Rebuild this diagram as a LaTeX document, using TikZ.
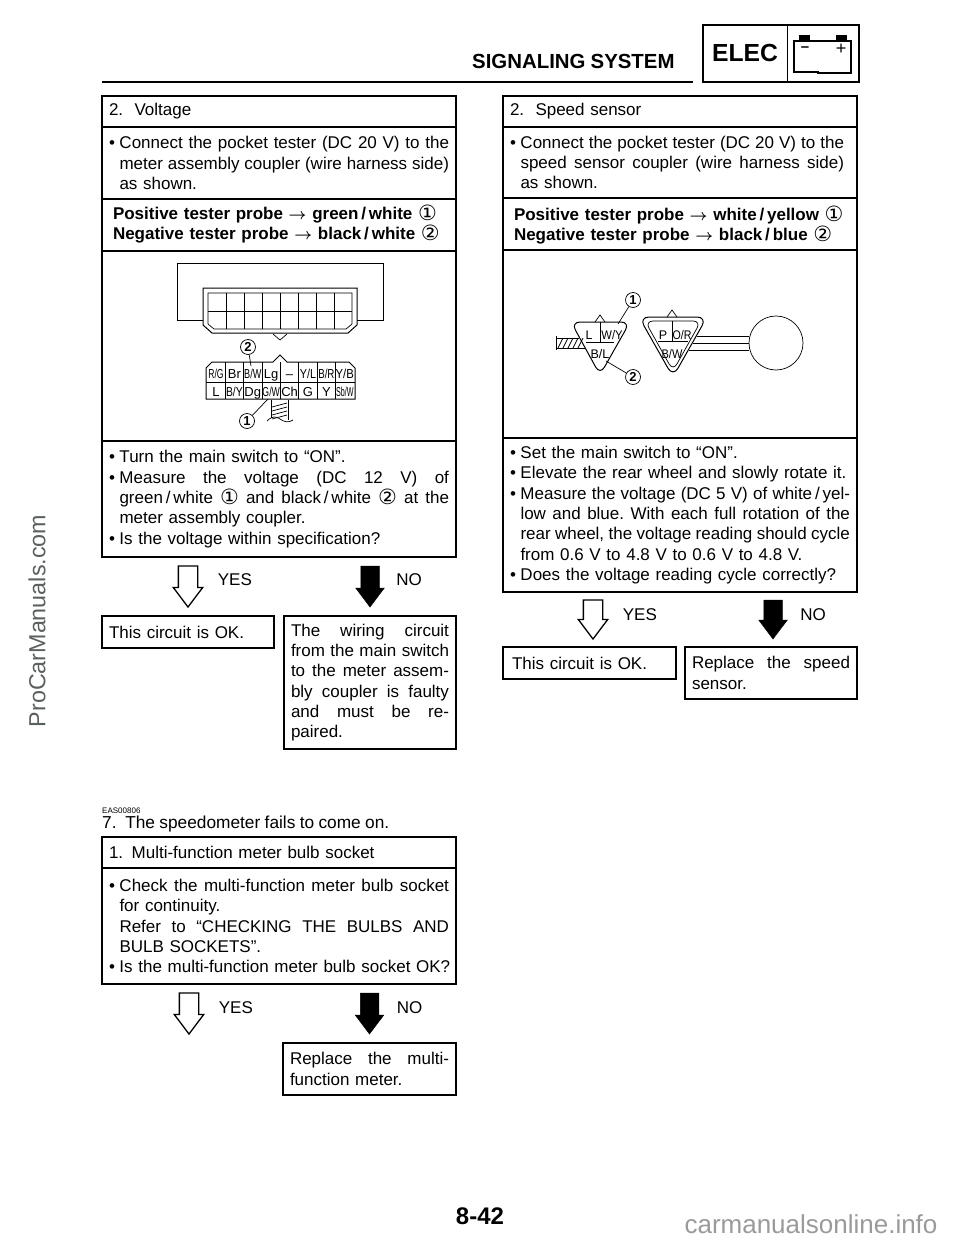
\documentclass[tikz,border=0pt]{standalone}
\usepackage{fontspec}
\setmainfont[WordSpace=0.9]{Liberation Sans}
\newfontfamily\cnumfont{DejaVu Sans}
\usepackage{xcolor}
\usetikzlibrary{arrows.meta,positioning,shapes.arrows,calc}
\definecolor{wmdark}{HTML}{5A5F5F}
\definecolor{wmlight}{HTML}{9A9A9A}
\newlength{\jw}
\setlength{\jw}{340pt}
\newcommand{\bodyfont}{\fontsize{17}{20.3}\selectfont}
\newcommand{\cone}{\smash{\raisebox{-1pt}{\mdseries\cnumfont\fontsize{21}{21}\selectfont ①}}}
\newcommand{\ctwo}{\smash{\raisebox{-1pt}{\mdseries\cnumfont\fontsize{21}{21}\selectfont ②}}}
\newcommand{\parrow}{\scalebox{.9}{\boldmath$\rightarrow$}}
\newcommand{\sx}[2]{\scalebox{#1}[1]{#2}}
\newcommand{\wideline}[2]{\leavevmode\hbox to #1{\spaceskip=.25em plus 1fil minus .1em\xspaceskip=\spaceskip\relax #2}}
% bullet line, its follow-up line, and the same two set to full width
\newcommand{\bl}[1]{\makebox[10.5pt][l]{\textbullet}\hbox{#1}}
\newcommand{\cl}[1]{\hspace*{10.5pt}\hbox{#1}}
\newcommand{\jb}[1]{\makebox[10.5pt][l]{\textbullet}\wideline{\dimexpr\jw-10.5pt\relax}{#1}}
\newcommand{\jc}[1]{\hspace*{10.5pt}\wideline{\dimexpr\jw-10.5pt\relax}{#1}}
\newcommand{\jl}[1]{\wideline{\jw}{#1}}
\begin{document}
\begin{tikzpicture}[x=1pt,y=-1pt,>=Latex, every node/.style={font=\bodyfont}]
\tikzstyle{sect}=[draw,line width=1.6pt,text width=340pt,inner xsep=7pt,inner ysep=0pt,outer sep=0pt]
\tikzstyle{small}=[draw,line width=1.6pt,inner xsep=7pt,inner ysep=0pt,outer sep=0pt]
\tikzstyle{yesarrow}=[draw,line width=1.3pt,single arrow,shape border rotate=270,minimum width=28pt,minimum height=41pt,single arrow head extend=5pt,single arrow tip angle=74,inner sep=9pt,outer sep=0pt]
\tikzstyle{noarrow}=[yesarrow,fill=black,line width=.5pt]
\tikzstyle{diag}=[line width=0.7pt]
\tikzstyle{callnum}=[draw,line width=0.7pt,circle,inner sep=0pt,minimum size=15pt,font=\fontsize{13}{13}\bfseries]
\tikzstyle{pinlab}=[inner sep=0pt,anchor=base,font=\fontsize{13}{14}\selectfont]
\tikzstyle{senslab}=[pinlab,font=\fontsize{12.5}{13}\selectfont]
\useasboundingbox (0,0) rectangle (960,1242);

% header
\node[anchor=west,inner sep=0pt,font=\fontsize{20.4}{22}\bfseries] (pagetitle) at (472,61) {SIGNALING SYSTEM};
\coordinate (rulea) at (102,82);
\coordinate (ruleb) at (693,82);
\draw[line width=2pt] (rulea) -- (ruleb);
\draw[line width=1.6pt] (703,25) rectangle (859,82);
\draw[line width=1pt] (787,25) -- (787,82);
\node[font=\fontsize{24.7}{26}\bfseries] (elec) at (745,53) {ELEC};
\draw[line width=1.2pt] (794,41) -- (851,41) -- (851,73) -- (818,73) -- (818,72) -- (794,72) -- cycle;
\fill (799,35) rectangle (810,41);
\fill (836,35) rectangle (847,41);
\node[inner sep=0pt,font=\fontsize{15}{15}\bfseries] (bminus) at (805,49) {--};
\node[inner sep=0pt,font=\fontsize{18}{18}\selectfont] (bplus) at (841,49) {+};

% voltage box
\node[sect,anchor=north west,minimum height=31pt] (vtitle) at (102,96) {2.\ \ Voltage};
\node[sect,below=0pt of vtitle,minimum height=72pt] (vconn) {\jb{Connect the pocket tester (DC 20 V) to the}\\
\jc{meter assembly coupler (wire harness side)}\\
\cl{as shown.}};
\node[sect,below=0pt of vconn,minimum height=52pt,font=\bodyfont\bfseries] (vprobe) {\hspace*{4pt}Positive tester probe \parrow{} green\,/\,white \cone\\[-0.8pt]
\hspace*{4pt}Negative tester probe \parrow{} black\,/\,white \ctwo};
\node[sect,below=0pt of vprobe,minimum height=190pt] (vdiag) {};
\node[sect,below=0pt of vdiag,minimum height=116pt] (vcheck) {\bl{Turn the main switch to “ON”.}\\
\jb{Measure the voltage (DC 12 V) of}\\
\jc{green\,/\,white \cone{} and black\,/\,white \ctwo{} at the}\\
\cl{meter assembly coupler.}\\
\bl{Is the voltage within specification?}};
\node[small,below right=59pt and 0pt of vcheck.south west,text width=158pt,minimum height=32pt] (vok) {This circuit is OK.};
\node[small,below left=59pt and 0pt of vcheck.south east,text width=158pt,minimum height=133pt] (vfault) {\setlength{\jw}{158pt}\jl{The wiring circuit}\\
\jl{from the main switch}\\
\jl{to the meter assem-}\\
\jl{bly coupler is faulty}\\
\jl{and must be re-}\\
paired.};
\node[yesarrow,above=9pt of vok] (vyes) {};
\node[noarrow,above=9pt of vfault] (vno) {};
\node[right=20pt of vyes,inner sep=0pt] (vyeslab) {YES};
\node[right=17pt of vno,yshift=1pt,inner sep=0pt] (vnolab) {NO};

% speed sensor box
\node[sect,anchor=north west,minimum height=31pt] (stitle) at (503,96) {2.\ \ Speed sensor};
\node[sect,below=0pt of stitle,minimum height=71pt] (sconn) {\setlength{\jw}{334pt}\jb{Connect the pocket tester (DC 20 V) to the}\\
\jc{speed sensor coupler (wire harness side)}\\
\cl{as shown.}};
\node[sect,below=0pt of sconn,minimum height=52pt,font=\bodyfont\bfseries] (sprobe) {\rule{0pt}{16.5pt}\hspace*{4pt}Positive tester probe \parrow{} white\,/\,yellow \cone\\[-0.8pt]
\hspace*{4pt}Negative tester probe \parrow{} black\,/\,blue \ctwo};
\node[sect,below=0pt of sprobe,minimum height=188pt] (sdiag) {};
\node[sect,below=0pt of sdiag,minimum height=154pt] (scheck) {\bl{Set the main switch to “ON”.}\\
\bl{Elevate the rear wheel and slowly rotate it.}\\
\jb{Measure the voltage (DC 5 V) of white\,/\,yel-}\\
\jc{low and blue. With each full rotation of the}\\
\jc{rear wheel, the voltage reading should cycle}\\
\cl{from 0.6 V to 4.8 V to 0.6 V to 4.8 V.}\\
\bl{Does the voltage reading cycle correctly?}};
\node[small,below right=55pt and 0pt of scheck.south west,text width=159pt,minimum height=32pt] (sok) {\hspace*{2pt}This circuit is OK.};
\node[small,below left=55pt and 0pt of scheck.south east,text width=158pt,minimum height=52pt] (sfault) {\setlength{\jw}{158pt}\jl{Replace the speed}\\
sensor.};
\node[yesarrow,above=8pt of sok,xshift=3.5pt,minimum height=39pt] (syes) {};
\node[noarrow,above=8pt of sfault,xshift=2pt,minimum height=39pt] (sno) {};
\node[right=20pt of syes,yshift=-2pt,inner sep=0pt] (syeslab) {YES};
\node[right=18pt of sno,yshift=-1pt,inner sep=0pt] (snolab) {NO};

% speedometer section
\node[anchor=west,inner sep=0pt,font=\fontsize{8}{8}\selectfont] (code) at (102,811) {EAS00806};
\node[anchor=west,inner sep=0pt,font=\fontsize{17.3}{20}\selectfont] (heading) at (102,824) {7.\ \ The speedometer fails to come on.};
\node[sect,anchor=north west,minimum height=31pt] (btitle) at (102,837) {1. Multi-function meter bulb socket};
\node[sect,below=0pt of btitle,minimum height=116pt] (bcheck) {\jb{Check the multi-function meter bulb socket}\\
\cl{for continuity.}\\
\jc{Refer to “CHECKING THE BULBS AND}\\
\cl{BULB SOCKETS”.}\\
\bl{Is the multi-function meter bulb socket OK?}};
\node[small,below left=59pt and 0pt of bcheck.south east,text width=159pt,minimum height=52pt] (bfault) {\setlength{\jw}{159pt}\jl{Replace the multi-}\\
function meter.};
\node[yesarrow,anchor=north] (byes) at (189,993) {};
\node[noarrow,above=9pt of bfault] (bno) {};
\node[right=20pt of byes,yshift=-1pt,inner sep=0pt] (byeslab) {YES};
\node[right=18pt of bno,inner sep=0pt] (bnolab) {NO};

% meter coupler drawing
\draw[diag,line width=1pt] (203,320) -- (177,320) -- (177,263) -- (383,263) -- (383,320) -- (357,320);
\draw[diag,line width=1pt] (203,288) -- (357,288) -- (357,325) -- (348,333) -- (212,333) -- (203,325) -- cycle;
\draw[diag] (208,293) -- (352,293) -- (352,324) -- (346,329) -- (214,329) -- (208,324) -- cycle;
\draw[diag] (208,311) -- (352,311);
\foreach \i in {1,...,7} \draw[diag] ({208+18*\i},293) -- ({208+18*\i},329);
\draw[diag] (273,334) -- (280,340) -- (287,334);
\draw[diag,line width=1pt] (206,399) -- (206,368) -- (212,362) -- (273,362) -- (280,355) -- (287,362) -- (349,362) -- (355,368) -- (355,399) -- cycle;
\draw[diag] (206,382) -- (355,382);
\foreach \i in {1,...,7} \draw[diag] ({206.8+18.4*\i},362) -- ({206.8+18.4*\i},399);
\foreach \lab [count=\i from 0] in {\sx{.66}{R/G},Br,\sx{.7}{B/W},Lg,--,\sx{.83}{Y/L},\sx{.75}{B/R},\sx{.87}{Y/B}} \node[pinlab] (top\i) at ({216+18.4*\i},378) {\lab};
\foreach \lab [count=\i from 0] in {L,\sx{.8}{B/Y},Dg,\sx{.67}{G/W},Ch,G,Y,\sx{.55}{Sb/W}} \node[pinlab] (bot\i) at ({216+18.4*\i},396) {\lab};
\draw[diag] (271,400) -- (271,418) (288,400) -- (288,420);
\draw[diag] (267,421) .. controls (272,416) and (276,416) .. (280,419) .. controls (284,422) and (289,423) .. (293,420);
\foreach \s in {403,407,411,415} \draw[diag] (272,\s+4) -- (287,\s);
\node[callnum] (meterb) at (248,347) {2};
\node[callnum] (metera) at (247,421) {1};
\coordinate (pinb) at (251,366);
\coordinate (pina) at (268,399);
\draw[diag] (meterb) -- (pinb);
\draw[diag] (metera) -- (pina);

% speed sensor drawing
\draw[diag,rounded corners=9pt,line width=1pt] (571,322) -- (630,322) -- (600,375) -- cycle;
\draw[diag] (595,322) -- (600,315) -- (605,322);
\draw[diag] (600,322) -- (600,342);
\draw[diag] (586,342) -- (614,342);
\draw[diag] (556,338) -- (579,338) (556,348) -- (585,348) (556,336) -- (556,350);
\foreach \s in {558,563,...,578} \draw[diag] (\s,348) -- (\s+5,338);
\node[senslab] (lw) at (589,339) {L};
\node[senslab] (lwy) at (612,339) {\sx{.9}{W/Y}};
\node[senslab] (lbl) at (600,358) {B/L};
\node[callnum] (sensa) at (633,300) {1};
\node[callnum] (sensb) at (633,377) {2};
\coordinate (pinsa) at (618,324);
\coordinate (pinsb) at (606,361);
\draw[diag] (sensa) -- (pinsa);
\draw[diag] (sensb) -- (pinsb);
\draw[diag,rounded corners=10pt,line width=1pt] (639,317) -- (707,317) -- (673,377) -- cycle;
\draw[diag,rounded corners=8pt] (645,321) -- (701,321) -- (673,371) -- cycle;
\draw[diag] (667,317) -- (672,310) -- (677,317);
\draw[diag] (672,321) -- (672,341);
\draw[diag] (658,341) -- (688,341);
\node[senslab] (rp) at (663,339) {P};
\node[senslab] (ror) at (682,339) {\sx{.85}{O/R}};
\node[senslab] (rbw) at (672,358) {\sx{.88}{B/W}};
\node[diag,draw,circle,inner sep=0pt,minimum size=54pt] (sensdisc) at (776,343) {};
\coordinate (wirea) at (697,336);
\coordinate (wireb) at (693,343);
\coordinate (wirec) at (689,350);
\draw[diag] (wirea) -- (sensdisc.west |- wirea);
\draw[diag] (wireb) -- (sensdisc.west |- wireb);
\draw[diag] (wirec) -- (sensdisc.west |- wirec);

% footer and margin text
\node[font=\fontsize{24}{26}\bfseries] (pagenum) at (480,1216) {8-42};
\node[rotate=90,text=wmdark,font=\fontsize{23.3}{25}\selectfont] (wmleft) at (37,621) {ProCarManuals.com};
\node[text=wmlight,font=\fontsize{26}{28}\selectfont] (wmright) at (811,1224) {carmanualsonline.info};
\end{tikzpicture}
\end{document}
